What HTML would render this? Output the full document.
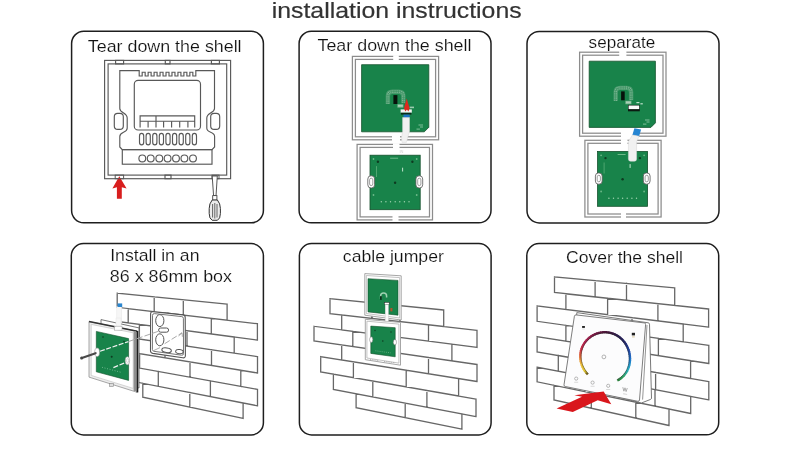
<!DOCTYPE html>
<html><head><meta charset="utf-8"><title>installation instructions</title>
<style>
html,body{margin:0;padding:0;background:#fff;}
body{width:790px;height:449px;overflow:hidden;font-family:"Liberation Sans",sans-serif;}
svg{display:block;will-change:transform;}
</style></head><body>
<svg width="790" height="449" viewBox="0 0 790 449" font-family="'Liberation Sans', sans-serif"><rect x="71.6" y="31.3" width="191.79999999999998" height="191.5" rx="12.2" ry="12.2" fill="#fff" stroke="#1e1e1e" stroke-width="1.5"/>
<rect x="299.1" y="31.3" width="191.89999999999998" height="191.5" rx="12.2" ry="12.2" fill="#fff" stroke="#1e1e1e" stroke-width="1.5"/>
<rect x="527" y="31.4" width="192" height="191.5" rx="12.2" ry="12.2" fill="#fff" stroke="#1e1e1e" stroke-width="1.5"/>
<rect x="71.3" y="243.6" width="192.09999999999997" height="191.29999999999998" rx="12.2" ry="12.2" fill="#fff" stroke="#1e1e1e" stroke-width="1.5"/>
<rect x="299.4" y="243.6" width="191.70000000000005" height="191.29999999999998" rx="12.2" ry="12.2" fill="#fff" stroke="#1e1e1e" stroke-width="1.5"/>
<rect x="526.8" y="243.6" width="191.9000000000001" height="191.20000000000002" rx="12.2" ry="12.2" fill="#fff" stroke="#1e1e1e" stroke-width="1.5"/>
<g style="filter:grayscale(1)">
<text x="271.7" y="17.7" font-size="21.6" fill="#333" stroke="#333" stroke-width="0.18" textLength="250" lengthAdjust="spacingAndGlyphs">installation instructions</text>
<text x="87.8" y="52" font-size="16.4" fill="#101010" stroke="#fff" stroke-width="0.16" textLength="153.8" lengthAdjust="spacingAndGlyphs">Tear down the shell</text>
<text x="317.5" y="51.1" font-size="16.4" fill="#101010" stroke="#fff" stroke-width="0.16" textLength="154" lengthAdjust="spacingAndGlyphs">Tear down the shell</text>
<text x="588.6" y="47.5" font-size="16.4" fill="#101010" stroke="#fff" stroke-width="0.16" textLength="66.6" lengthAdjust="spacingAndGlyphs">separate</text>
<text x="110.2" y="260.7" font-size="15.9" fill="#101010" stroke="#fff" stroke-width="0.16" textLength="89.3" lengthAdjust="spacingAndGlyphs">Install in an</text>
<text x="109.8" y="281.9" font-size="15.9" fill="#101010" stroke="#fff" stroke-width="0.16" textLength="122.2" lengthAdjust="spacingAndGlyphs">86 x 86mm box</text>
<text x="342.8" y="262.1" font-size="16.4" fill="#101010" stroke="#fff" stroke-width="0.16" textLength="101.1" lengthAdjust="spacingAndGlyphs">cable jumper</text>
<text x="566.0" y="263.2" font-size="16.4" fill="#101010" stroke="#fff" stroke-width="0.16" textLength="117" lengthAdjust="spacingAndGlyphs">Cover the shell</text>
</g>
<g fill="none" stroke="#585858" stroke-width="1.15"><rect x="104.6" y="60.4" width="126" height="118.3"/><rect x="108.1" y="63.9" width="118.6" height="111.2"/><rect x="115.6" y="60.4" width="8" height="3.5"/><rect x="165.3" y="60.4" width="4.7" height="3.5"/><rect x="211.4" y="60.4" width="8" height="3.5"/><rect x="165" y="175.1" width="6" height="3.6"/><path d="M119.8,70.6 H139.2V76h2.98V72.2h2.98V76h2.98V72.2h2.98V76h2.98V72.2h2.98V76h2.98V72.2h2.98V76h2.98V72.2h2.98V76h2.98V72.2h2.98V76h2.98V72.2h2.98V76h2.98V72.2h2.98V76h2.98V72.2h2.98V76h2.98V70.6 H214.5 V108.4 C214.5,113 206.8,112.5 206.8,118 V128.2 C206.8,133 214.6,131.5 214.6,136.4 V147 L212,149.6 H122.3 L119.8,147 V136.4 C119.8,131.5 127.2,133 127.2,128.2 V118 C127.2,112.5 119.8,113 119.8,108.4 Z"/><rect x="122.3" y="149.6" width="89.7" height="14.6"/><rect x="134.3" y="80.4" width="66.2" height="49.6" rx="3.8"/><path d="M140.1,127.4 V115.9 H194.7 V127.4 M140.1,121.2 H194.7 M156,115.9 V127.4"/><path d="M148.1,121.2 V127.4"/><path d="M163.6,121.2 V127.4"/><path d="M171.6,121.2 V127.4"/><path d="M179.7,121.2 V127.4"/><path d="M187.9,121.2 V127.4"/><rect x="139.50" y="133.3" width="4.2" height="11.5" rx="2.1" ry="2.6"/><rect x="146.10" y="133.3" width="4.2" height="11.5" rx="2.1" ry="2.6"/><rect x="152.70" y="133.3" width="4.2" height="11.5" rx="2.1" ry="2.6"/><rect x="159.30" y="133.3" width="4.2" height="11.5" rx="2.1" ry="2.6"/><rect x="165.90" y="133.3" width="4.2" height="11.5" rx="2.1" ry="2.6"/><rect x="172.50" y="133.3" width="4.2" height="11.5" rx="2.1" ry="2.6"/><rect x="179.10" y="133.3" width="4.2" height="11.5" rx="2.1" ry="2.6"/><rect x="185.70" y="133.3" width="4.2" height="11.5" rx="2.1" ry="2.6"/><rect x="192.30" y="133.3" width="4.2" height="11.5" rx="2.1" ry="2.6"/><circle cx="142.30" cy="158.4" r="3.4"/><circle cx="150.70" cy="158.4" r="3.4"/><circle cx="159.30" cy="158.4" r="3.4"/><circle cx="167.60" cy="158.4" r="3.4"/><circle cx="176.00" cy="158.4" r="3.4"/><circle cx="184.40" cy="158.4" r="3.4"/><circle cx="193.00" cy="158.4" r="3.4"/><rect x="114.3" y="113.4" width="9" height="16" rx="3.4" fill="#fff"/><rect x="210.7" y="113.4" width="9" height="16" rx="3.4" fill="#fff"/></g>
<path d="M119.3,176.3 L126.6,188.4 L121.8,187.2 V198.8 H116.9 V187.2 L112.4,188.4 Z" fill="#d81e1e"/>
<g fill="none" stroke="#585858" stroke-width="1"><rect x="115.2" y="175.1" width="8.4" height="3.6"/><rect x="212" y="175.1" width="7" height="3.6"/></g>
<path d="M212.2,176 H217.3 L216,196 H213.6 Z" fill="#fff" stroke="#444" stroke-width="0.9"/>
<rect x="212.7" y="195.6" width="4.2" height="4.6" fill="#fff" stroke="#444" stroke-width="0.9"/>
<path d="M212.2,200 Q209.2,203.5 209.2,208.5 V213.5 Q209.2,218.8 212.2,220.3 H217.4 Q220.4,218.8 220.4,213.5 V208.5 Q220.4,203.5 217.4,200 Z" fill="#ececec" stroke="#333" stroke-width="1"/>
<path d="M212.6,204 V217.5 M214.8,203 V218.5 M217,204 V217.5" stroke="#555" stroke-width="0.9" fill="none"/>
<rect x="352.4" y="56.4" width="86.20000000000005" height="83.4" fill="#fff" stroke="none"/><g fill="none" stroke="#8c8c8c" stroke-width="1.25"><rect x="352.4" y="56.4" width="86.20000000000005" height="83.4"/><rect x="355.4" y="59.4" width="80.20000000000005" height="77.4"/></g><rect x="393.2" y="55.199999999999996" width="5.600000000000023" height="5.4" fill="#fff"/><rect x="392" y="135.60000000000002" width="8" height="5.4" fill="#fff"/>
<path d="M361.6,64.7 H428.8 V127.30000000000001 L424.3,131.8 H361.6 Z" fill="#18834a" stroke="#14502c" stroke-width="0.8"/>
<path d="M387.90000000000003,104 V95.7 Q387.90000000000003,91.7 392.40000000000003,91.7 H398.79999999999995 Q403.29999999999995,91.7 403.29999999999995,95.7 V103.2" fill="none" stroke="#46996b" stroke-width="4.4" stroke-linejoin="round"/><path d="M387.90000000000003,104 V95.7 Q387.90000000000003,91.7 392.40000000000003,91.7 H398.79999999999995 Q403.29999999999995,91.7 403.29999999999995,95.7 V103.2" fill="none" stroke="#86bd9c" stroke-width="2.6" stroke-dasharray="1.0,0.8"/><path d="M387.90000000000003,104 V95.7 Q387.90000000000003,91.7 392.40000000000003,91.7 H398.79999999999995 Q403.29999999999995,91.7 403.29999999999995,95.7 V103.2" fill="none" stroke="#3a9160" stroke-width="0.8"/><rect x="393.4" y="95.1" width="4.0" height="8.900000000000006" fill="#07120b"/><rect x="397.4" y="104.2" width="6" height="3.4" fill="#7fb894"/><rect x="398.0" y="105.0" width="4.8" height="1.6" fill="#a9d1b8"/>
<rect x="418.5" y="124.5" width="4.5" height="1" fill="#7fc09a"/><rect x="420" y="126.5" width="3" height="1" fill="#7fc09a"/><rect x="416.5" y="128.6" width="3.4" height="1" fill="#7fc09a"/>
<rect x="409.6" y="106.6" width="4.4" height="1.6" fill="#9ccbae"/>
<rect x="400.6" y="109.4" width="11.2" height="3.3" fill="#f3f3f3"/>
<path d="M406.7,98.6 L409.6,108.2 L408.4,111.6 L406.9,109.6 L405.4,111.6 L404,108.2 Z" fill="#dc2a1e"/>
<rect x="401" y="112.8" width="10.4" height="1.8" fill="#0d2a1a"/>
<rect x="403.5" y="114.6" width="6.2" height="3" fill="#1f72c6"/>
<rect x="357.1" y="144.4" width="75.39999999999998" height="75.5" fill="#fff" stroke="none"/><g fill="none" stroke="#8c8c8c" stroke-width="1.25"><rect x="357.1" y="144.4" width="75.39999999999998" height="75.5"/><rect x="360.1" y="147.4" width="69.39999999999998" height="69.5"/></g><rect x="393" y="143.20000000000002" width="6.5" height="5.4" fill="#fff"/><rect x="392.5" y="215.70000000000002" width="6.0" height="5.4" fill="#fff"/>
<path d="M402.6,117.6 H409.5 V131.6 L407.8,137 L406.4,142.5 H402 L401.6,137 L402.6,131.6 Z" fill="#f1f1f1" stroke="#dadada" stroke-width="0.5"/>
<rect x="370" y="155.2" width="50.19999999999999" height="54.5" fill="#18834a" stroke="#14502c" stroke-width="0.8"/><rect x="367.8" y="175.8" width="6.8" height="12.199999999999989" rx="3.2" fill="#fff" stroke="#555" stroke-width="0.8"/><rect x="369.59999999999997" y="178.20000000000002" width="3.2" height="7.399999999999989" rx="1.6" fill="#fff" stroke="#777" stroke-width="0.7"/><rect x="415.90000000000003" y="175.8" width="6.8" height="12.199999999999989" rx="3.2" fill="#fff" stroke="#555" stroke-width="0.8"/><rect x="417.7" y="178.20000000000002" width="3.2" height="7.399999999999989" rx="1.6" fill="#fff" stroke="#777" stroke-width="0.7"/><circle cx="377.9" cy="161.7" r="1.2" fill="#0e3a20"/><circle cx="412.4" cy="161.7" r="1.2" fill="#0e3a20"/><circle cx="395.1" cy="182.7" r="1.2" fill="#0e3a20"/><circle cx="381.3" cy="201.7" r="0.7" fill="#9fd3b0"/><circle cx="385.9" cy="201.7" r="0.7" fill="#9fd3b0"/><circle cx="390.5" cy="201.7" r="0.7" fill="#9fd3b0"/><circle cx="395.2" cy="201.7" r="0.7" fill="#9fd3b0"/><circle cx="399.8" cy="201.7" r="0.7" fill="#9fd3b0"/><circle cx="404.4" cy="201.7" r="0.7" fill="#9fd3b0"/><circle cx="409.0" cy="201.7" r="0.7" fill="#9fd3b0"/><circle cx="373.5" cy="159.0" r="0.9" fill="#6fb98a"/><circle cx="416.7" cy="159.0" r="0.9" fill="#6fb98a"/><circle cx="373.5" cy="195.0" r="0.9" fill="#6fb98a"/><circle cx="416.7" cy="195.0" r="0.9" fill="#6fb98a"/><rect x="390.1" y="157.7" width="8.0" height="1" fill="#6fb98a"/><rect x="376.0" y="166.1" width="1" height="10.9" fill="#4fa670"/><rect x="402.1" y="167.7" width="1" height="3.8" fill="#bfe3cc"/>
<text x="399.5" y="153.3" font-size="4" fill="#cfcfcf">IN</text>
<rect x="579.6" y="52.2" width="86.39999999999998" height="83.99999999999999" fill="#fff" stroke="none"/><g fill="none" stroke="#8c8c8c" stroke-width="1.25"><rect x="579.6" y="52.2" width="86.39999999999998" height="83.99999999999999"/><rect x="582.6" y="55.2" width="80.39999999999998" height="77.99999999999999"/></g><rect x="619.2" y="51.0" width="7.199999999999932" height="5.4" fill="#fff"/><rect x="621" y="132.0" width="12" height="5.4" fill="#fff"/>
<path d="M589.2,61.2 H655.4 V122.9 L650.9,127.4 H589.2 Z" fill="#18834a" stroke="#14502c" stroke-width="0.8"/>
<path d="M615.7,101 V91.9 Q615.7,87.9 620.2,87.9 H626.6 Q631.1,87.9 631.1,91.9 V100.2" fill="none" stroke="#46996b" stroke-width="4.4" stroke-linejoin="round"/><path d="M615.7,101 V91.9 Q615.7,87.9 620.2,87.9 H626.6 Q631.1,87.9 631.1,91.9 V100.2" fill="none" stroke="#86bd9c" stroke-width="2.6" stroke-dasharray="1.0,0.8"/><path d="M615.7,101 V91.9 Q615.7,87.9 620.2,87.9 H626.6 Q631.1,87.9 631.1,91.9 V100.2" fill="none" stroke="#3a9160" stroke-width="0.8"/><rect x="621.1" y="91.4" width="3.6000000000000227" height="8.899999999999991" fill="#07120b"/><rect x="625.4" y="100.8" width="6" height="3.4" fill="#7fb894"/><rect x="626.0" y="101.6" width="4.8" height="1.6" fill="#a9d1b8"/>
<rect x="628" y="104.9" width="11.8" height="6.4" fill="#0b1a11"/><rect x="628.6" y="105.5" width="10.6" height="3.6" fill="#fafafa"/>
<rect x="636.4" y="102" width="3" height="1.2" fill="#bfe0cc"/><rect x="640.4" y="103.2" width="2.4" height="1.2" fill="#bfe0cc"/>
<rect x="645" y="119.5" width="4.5" height="1" fill="#7fc09a"/><rect x="646.5" y="121.5" width="3" height="1" fill="#7fc09a"/><rect x="643" y="123.6" width="3.4" height="1" fill="#7fc09a"/>
<rect x="584.9" y="140.3" width="76.20000000000005" height="76.69999999999999" fill="#fff" stroke="none"/><g fill="none" stroke="#8c8c8c" stroke-width="1.25"><rect x="584.9" y="140.3" width="76.20000000000005" height="76.69999999999999"/><rect x="587.9" y="143.3" width="70.20000000000005" height="70.69999999999999"/></g><rect x="621" y="139.10000000000002" width="6.5" height="5.4" fill="#fff"/><rect x="621" y="212.8" width="5" height="5.4" fill="#fff"/>
<rect x="597.6" y="151.5" width="50.0" height="54.80000000000001" fill="#18834a" stroke="#14502c" stroke-width="0.8"/><rect x="595.4000000000001" y="172.9" width="6.8" height="11.299999999999983" rx="3.2" fill="#fff" stroke="#555" stroke-width="0.8"/><rect x="597.2" y="175.3" width="3.2" height="6.499999999999983" rx="1.6" fill="#fff" stroke="#777" stroke-width="0.7"/><rect x="643.3000000000001" y="172.9" width="6.8" height="11.299999999999983" rx="3.2" fill="#fff" stroke="#555" stroke-width="0.8"/><rect x="645.1" y="175.3" width="3.2" height="6.499999999999983" rx="1.6" fill="#fff" stroke="#777" stroke-width="0.7"/><circle cx="605.5" cy="158.1" r="1.2" fill="#0e3a20"/><circle cx="639.9" cy="158.1" r="1.2" fill="#0e3a20"/><circle cx="622.6" cy="179.2" r="1.2" fill="#0e3a20"/><circle cx="608.9" cy="198.2" r="0.7" fill="#9fd3b0"/><circle cx="613.5" cy="198.2" r="0.7" fill="#9fd3b0"/><circle cx="618.1" cy="198.2" r="0.7" fill="#9fd3b0"/><circle cx="622.6" cy="198.2" r="0.7" fill="#9fd3b0"/><circle cx="627.2" cy="198.2" r="0.7" fill="#9fd3b0"/><circle cx="631.9" cy="198.2" r="0.7" fill="#9fd3b0"/><circle cx="636.5" cy="198.2" r="0.7" fill="#9fd3b0"/><circle cx="601.1" cy="155.3" r="0.9" fill="#6fb98a"/><circle cx="644.1" cy="155.3" r="0.9" fill="#6fb98a"/><circle cx="601.1" cy="191.5" r="0.9" fill="#6fb98a"/><circle cx="644.1" cy="191.5" r="0.9" fill="#6fb98a"/><rect x="617.6" y="154.0" width="8.0" height="1" fill="#6fb98a"/><rect x="603.6" y="162.5" width="1" height="11.0" fill="#4fa670"/><rect x="629.6" y="164.1" width="1" height="3.8" fill="#bfe3cc"/>
<path d="M634.4,128.2 L641.1,129.4 L639.1,136.2 L632.4,135 Z" fill="#2484d2"/>
<path d="M632.4,135 L639.1,136.2 L636.6,141.6 V159 q0,2.2 -2.2,2.2 h-3.8 q-2.2,0 -2.2,-2.2 V141.6 Z" fill="#f1f1f1" stroke="#d6d6d6" stroke-width="0.5"/>
<path d="M117.2,293.1L227.1,304.2M117.2,307.3L227.1,320.2M117.2,293.1L117.2,307.3M154.2,296.8L154.2,311.6M183.3,299.8L183.3,315.0M227.1,304.2L227.1,320.2M128.2,308.6L257.4,323.7M128.2,323.0L257.4,340.1M128.2,308.6L128.2,323.0M168.0,313.2L168.0,328.2M211.3,318.3L211.3,334.0M257.4,323.7L257.4,340.1M117.2,321.5L234.2,337.0M117.2,335.7L234.2,353.1M117.2,321.5L117.2,335.7M139.4,324.4L139.4,339.0M187.0,330.8L187.0,346.1M234.2,337.0L234.2,353.1M138.4,338.9L257.5,356.6M138.4,353.4L257.5,373.0M138.4,338.9L138.4,353.4M165.0,342.8L165.0,357.8M211.5,349.7L211.5,365.4M257.5,356.6L257.5,373.0M139.6,353.6L240.8,370.2M139.6,368.1L240.8,386.4M139.6,353.6L139.6,368.1M190.0,361.9L190.0,377.2M240.8,370.2L240.8,386.4M137.8,367.8L257.5,389.4M137.8,382.3L257.5,405.8M137.8,367.8L137.8,382.3M158.3,371.5L158.3,386.4M210.4,380.9L210.4,396.6M257.5,389.4L257.5,405.8M142.8,383.3L243.1,403.0M142.8,397.2L243.1,418.4M142.8,383.3L142.8,397.2M189.8,392.5L189.8,407.1M243.1,403.0L243.1,418.4" fill="none" stroke="#676767" stroke-width="1.3" stroke-linecap="square"/>
<rect x="116.8" y="306.5" width="4.8" height="26" fill="#f6f6f6" stroke="#e6e6e6" stroke-width="0.5"/>
<rect x="117.6" y="303.4" width="4.6" height="3.6" fill="#2b86cf"/>
<path d="M153.1,311.6 L183,314.9 q2.2,0.3 2.2,2.5 L185.4,355.6 q0,2.6 -2.6,2.2 L152.8,353.4 q-2.3,-0.4 -2.3,-2.6 L150.6,314 q0,-2.6 2.5,-2.4 Z" fill="#fff" stroke="#555" stroke-width="1.1"/>
<path d="M154.4,313.6 L181.8,316.6 q1.6,0.2 1.6,1.8 L183.5,353.6 q0,1.9 -1.9,1.6 L154,351.3 q-1.6,-0.3 -1.6,-1.9 L152.5,315.4 q0,-1.9 1.9,-1.8 Z" fill="none" stroke="#666" stroke-width="0.9"/>
<g fill="#fff" stroke="#555" stroke-width="1"><ellipse cx="159.8" cy="320.6" rx="4.1" ry="6"/><ellipse cx="159.8" cy="339.8" rx="4.1" ry="6"/><rect x="158.6" y="328" width="10" height="4.2" rx="2.1"/><ellipse cx="166.6" cy="350.2" rx="4.8" ry="2.3" transform="rotate(8 166.6 350.2)"/><ellipse cx="179.4" cy="351.6" rx="3.8" ry="2.1" transform="rotate(8 179.4 351.6)"/></g>
<path d="M153.6,350.6 L160,347.6" stroke="#888" stroke-width="0.7"/>
<path d="M101,319.6 L139,327.9 L139,388 L101,376 Z" fill="#fff" stroke="#666" stroke-width="0.9"/>
<path d="M89,321.6 L137.2,331.2 L137.2,392.3 L89,377.1 Z" fill="#ededed" stroke="#9c9c9c" stroke-width="0.9"/>
<path d="M91.2,324.4 L133.2,332.8 L133.2,388.4 L91.2,375.4 Z" fill="#fff" stroke="#c4c4c4" stroke-width="0.7"/>
<path d="M89,321.6 L137.2,331.2" stroke="#333" stroke-width="1.5" fill="none"/>
<path d="M137.4,331 L137.4,392.4" stroke="#1d1d1d" stroke-width="1.8" fill="none"/>
<path d="M134.8,331.2 L134.8,391" stroke="#8f8f8f" stroke-width="2.4" fill="none"/>
<path d="M96.3,331.4 L128.6,338.6 L128.6,380.4 L96.3,371.8 Z" fill="#18834a" stroke="#14502c" stroke-width="0.6"/>
<rect x="116" y="318" width="5" height="10" fill="#f6f6f6" stroke="#e6e6e6" stroke-width="0.5"/>
<rect x="114.6" y="326.2" width="7.4" height="4" fill="#fff" stroke="#a5a5a5" stroke-width="0.6"/>
<ellipse cx="97.1" cy="352.3" rx="2.4" ry="4.3" fill="#fff" stroke="#999" stroke-width="0.6"/>
<ellipse cx="127.4" cy="360.7" rx="2.2" ry="4" fill="#fff" stroke="#999" stroke-width="0.6"/>
<ellipse cx="127.6" cy="360.7" rx="1" ry="2.1" fill="#fff" stroke="#aaa" stroke-width="0.5"/>
<path d="M81.8,358 L95.6,353.2" stroke="#4a4a4a" stroke-width="2.2" stroke-linecap="round" fill="none"/><circle cx="81.6" cy="358" r="1.5" fill="#444"/>
<path d="M100,351.3 L128.4,341.6 M113.4,367.6 L124.9,362.8" stroke="#f2f2f2" stroke-width="1.2" stroke-dasharray="5,1.6" fill="none"/>
<path d="M129,341.4 L158,331.4 M164.7,343.7 L182,332.8" stroke="#a9a9a9" stroke-width="1" stroke-dasharray="6,2.2" fill="none"/>
<path d="M178.6,336 l3.4,-3.2 l0.4,4" stroke="#999" stroke-width="0.8" fill="none"/>
<circle cx="111.7" cy="356.8" r="1" fill="#0e3a20"/><circle cx="103" cy="337" r="0.8" fill="#0e3a20"/><circle cx="124" cy="341.5" r="0.8" fill="#0e3a20"/>
<path d="M102,367.3 L121,372.3" stroke="#7fc09a" stroke-width="0.8" stroke-dasharray="1,1.6" fill="none"/>
<rect x="109.6" y="383.4" width="4" height="3" fill="#ddd" stroke="#888" stroke-width="0.6"/>
<path d="M330.0,298.7L443.7,310.0M330.0,313.6L443.7,326.5M330.0,298.7L330.0,313.6M372.0,302.9L372.0,318.4M400.0,305.7L400.0,321.6M443.7,310.0L443.7,326.5M341.7,314.9L477.0,330.4M341.7,329.9L477.0,347.4M341.7,314.9L341.7,329.9M385.0,319.8L385.0,335.5M428.5,324.8L428.5,341.1M477.0,330.4L477.0,347.4M314.0,326.3L451.9,344.2M314.0,340.9L451.9,360.8M314.0,326.3L314.0,340.9M352.8,331.3L352.8,346.5M398.0,337.2L398.0,353.1M451.9,344.2L451.9,360.8M341.7,344.9L477.0,364.5M341.7,360.0L477.0,381.5M341.7,344.9L341.7,360.0M428.5,357.5L428.5,373.8M477.0,364.5L477.0,381.5M320.7,356.6L458.6,378.6M320.7,371.9L458.6,396.0M320.7,356.6L320.7,371.9M353.4,361.8L353.4,377.6M406.2,370.2L406.2,386.9M458.6,378.6L458.6,396.0M333.4,374.1L476.0,399.1M333.4,389.5L476.0,416.6M333.4,374.1L333.4,389.5M372.8,381.0L372.8,397.0M426.9,390.5L426.9,407.3M476.0,399.1L476.0,416.6M356.1,393.8L461.9,413.9M356.1,407.7L461.9,429.2M356.1,393.8L356.1,407.7M405.2,403.1L405.2,417.7M461.9,413.9L461.9,429.2" fill="none" stroke="#676767" stroke-width="1.3" stroke-linecap="square"/>
<path d="M364.8,273.6 L401.2,275.8 L401.2,320 L364.8,315.2 Z" fill="#fff" stroke="#9c9c9c" stroke-width="0.9"/>
<path d="M366.3,275.5 L399.7,277.6 L399.7,318 L366.3,313.5 Z" fill="#fff" stroke="#b4b4b4" stroke-width="0.8"/>
<path d="M368,278.7 L398,280.4 L398,315.2 L368,311.9 Z" fill="#18834a" stroke="#14502c" stroke-width="0.6"/>
<path d="M365.3,319.3 L400.5,322.4 L400.5,365.2 L365.3,359.7 Z" fill="#fff" stroke="#9c9c9c" stroke-width="0.9"/>
<path d="M366.9,321.2 L398.9,324.1 L398.9,363.1 L366.9,358 Z" fill="#fff" stroke="#b4b4b4" stroke-width="0.8"/>
<path d="M370.8,326.1 L395.2,327.7 L395.2,356.8 L370.8,353.4 Z" fill="#18834a" stroke="#14502c" stroke-width="0.6"/>
<path d="M380.6,299 v-3 q0,-3 3,-3 q3,0 3,3 v1.4" fill="none" stroke="#9fd0b1" stroke-width="1.5"/>
<rect x="380" y="296.2" width="1.8" height="3.6" fill="#0c2f1a"/>
<rect x="384.4" y="302.4" width="4.8" height="2" fill="#fff" stroke="#222" stroke-width="0.5"/>
<rect x="385.2" y="304.6" width="3.2" height="16.6" fill="#fafafa" stroke="#ccc" stroke-width="0.4"/>
<rect x="390.4" y="308" width="2" height="3.4" fill="#b5502c"/>
<ellipse cx="371.2" cy="339.6" rx="1.6" ry="2.8" fill="#fff" stroke="#777" stroke-width="0.5"/><ellipse cx="394.9" cy="342.2" rx="1.6" ry="2.8" fill="#fff" stroke="#777" stroke-width="0.5"/>
<circle cx="382.8" cy="341" r="0.8" fill="#0e3a20"/><circle cx="375" cy="330.5" r="0.7" fill="#0e3a20"/><circle cx="391" cy="332" r="0.7" fill="#0e3a20"/>
<path d="M375.5,350.8 L390.5,352.8" stroke="#8cc7a2" stroke-width="0.7" stroke-dasharray="0.8,1.3" fill="none"/>
<path d="M370,359.4 L379,360.6 M384,361.4 L395,362.8" stroke="#999" stroke-width="0.7" stroke-dasharray="1,0.8" fill="none"/>
<path d="M554.5,277.0L674.7,287.8M554.5,292.5L674.7,305.4M554.5,277.0L554.5,292.5M595.1,280.6L595.1,296.9M626.5,283.5L626.5,300.2M674.7,287.8L674.7,305.4M565.9,293.8L708.6,309.0M565.9,309.5L708.6,327.2M565.9,293.8L565.9,309.5M607.6,298.2L607.6,314.7M657.9,303.6L657.9,320.9M708.6,309.0L708.6,327.2M537.1,306.0L683.2,324.0M537.1,321.3L683.2,341.8M537.1,306.0L537.1,321.3M583.0,311.7L583.0,327.7M632.0,317.7L632.0,334.6M683.2,324.0L683.2,341.8M565.9,325.3L708.8,345.4M565.9,341.1L708.8,363.5M565.9,325.3L565.9,341.1M610.0,331.5L610.0,348.0M658.4,338.3L658.4,355.6M708.8,345.4L708.8,363.5M537.1,336.6L690.6,360.7M537.1,351.9L690.6,378.5M537.1,336.6L537.1,351.9M585.0,344.1L585.0,360.2M640.0,352.7L640.0,369.7M690.6,360.7L690.6,378.5M558.3,355.5L708.8,381.7M558.3,371.2L708.8,399.8M558.3,355.5L558.3,371.2M605.0,363.7L605.0,380.1M655.6,372.4L655.6,389.7M708.8,381.7L708.8,399.8M537.1,367.2L690.7,396.4M537.1,381.8L690.7,413.5M537.1,367.2L537.1,381.8M585.0,376.3L585.0,391.7M655.0,389.6L655.0,406.2M690.7,396.4L690.7,413.5M554.0,385.3L669.0,409.0M554.0,400.0L669.0,425.5M554.0,385.3L554.0,400.0M591.3,393.0L591.3,408.2M635.8,402.2L635.8,418.1M669.0,409.0L669.0,425.5" fill="none" stroke="#676767" stroke-width="1.3" stroke-linecap="square"/>
<path d="M576.8,312.6 L648.2,322.8 q1.2,0.2 1.3,1.4 L651.5,398 q0,1 -0.9,1.4 L641.4,403 L575,386 Z" fill="#fff" stroke="#6a6a6a" stroke-width="0.9"/>
<path d="M647,325 L642.6,399.6" stroke="#7a7a7a" stroke-width="0.8" fill="none"/>
<path d="M576.1,314.9 L644.3000000000001,322.90000000000003 q1.4,0.2 1.3,1.6 L639.5,400.0 q-0.2,1.6 -1.7,1.3 L565.1999999999999,386.5 q-1.4,-0.3 -1.2,-1.7 L574.4,316.2 q0.2,-1.4 1.7,-1.3 Z" fill="#fcfcfd" stroke="#6e6e6e" stroke-width="0.9"/>
<g fill="none" stroke-width="2.3"><path d="M587.80,374.46 L587.12,373.75 L586.47,373.01 L585.85,372.25" stroke="rgb(120, 101, 26)"/><path d="M586.34,372.85 L585.73,372.09 L585.14,371.31 L584.58,370.51" stroke="rgb(194, 170, 44)"/><path d="M585.02,371.15 L584.47,370.35 L583.95,369.53 L583.46,368.69" stroke="rgb(227, 198, 52)"/><path d="M583.85,369.35 L583.37,368.52 L582.92,367.66 L582.50,366.79" stroke="rgb(230, 195, 54)"/><path d="M582.83,367.48 L582.42,366.61 L582.05,365.73 L581.71,364.84" stroke="rgb(232, 193, 55)"/><path d="M581.97,365.55 L581.64,364.66 L581.34,363.75 L581.08,362.84" stroke="rgb(235, 190, 57)"/><path d="M581.28,363.57 L581.03,362.65 L580.81,361.74 L580.62,360.81" stroke="rgb(233, 174, 58)"/><path d="M580.77,361.55 L580.59,360.62 L580.45,359.69 L580.34,358.76" stroke="rgb(230, 152, 58)"/><path d="M580.42,359.50 L580.33,358.57 L580.26,357.64 L580.24,356.70" stroke="rgb(227, 130, 59)"/><path d="M580.26,357.44 L580.24,356.51 L580.26,355.58 L580.31,354.65" stroke="rgb(223, 108, 60)"/><path d="M580.27,355.39 L580.33,354.46 L580.43,353.54 L580.56,352.62" stroke="rgb(216, 90, 63)"/><path d="M580.45,353.35 L580.59,352.43 L580.77,351.53 L580.98,350.62" stroke="rgb(210, 73, 66)"/><path d="M580.81,351.34 L581.03,350.44 L581.28,349.55 L581.57,348.67" stroke="rgb(203, 55, 70)"/><path d="M581.34,349.37 L581.63,348.49 L581.96,347.63 L582.32,346.78" stroke="rgb(196, 44, 72)"/><path d="M582.03,347.45 L582.40,346.60 L582.80,345.77 L583.23,344.95" stroke="rgb(190, 41, 73)"/><path d="M582.89,345.60 L583.33,344.79 L583.80,343.99 L584.30,343.21" stroke="rgb(183, 38, 75)"/><path d="M583.90,343.83 L584.40,343.05 L584.94,342.29 L585.50,341.56" stroke="rgb(176, 35, 76)"/><path d="M585.05,342.14 L585.62,341.41 L586.22,340.70 L586.84,340.01" stroke="rgb(170, 32, 77)"/><path d="M586.34,340.55 L586.97,339.87 L587.62,339.21 L588.30,338.57" stroke="rgb(161, 31, 76)"/><path d="M587.76,339.08 L588.44,338.45 L589.15,337.84 L589.88,337.26" stroke="rgb(152, 30, 74)"/><path d="M589.30,337.72 L590.03,337.15 L590.78,336.60 L591.56,336.08" stroke="rgb(142, 29, 72)"/><path d="M590.94,336.49 L591.72,335.98 L592.51,335.50 L593.32,335.05" stroke="rgb(133, 28, 70)"/><path d="M592.68,335.40 L593.49,334.96 L594.32,334.54 L595.17,334.16" stroke="rgb(124, 27, 68)"/><path d="M594.50,334.46 L595.35,334.08 L596.21,333.73 L597.08,333.42" stroke="rgb(114, 26, 66)"/><path d="M596.39,333.67 L597.27,333.36 L598.15,333.09 L599.05,332.85" stroke="rgb(107, 25, 65)"/><path d="M598.34,333.04 L599.24,332.80 L600.14,332.60 L601.06,332.44" stroke="rgb(100, 25, 64)"/><path d="M600.33,332.57 L601.25,332.41 L602.17,332.29 L603.09,332.20" stroke="rgb(93, 25, 63)"/><path d="M602.36,332.27 L603.28,332.19 L604.21,332.15 L605.13,332.14" stroke="rgb(86, 24, 62)"/><path d="M604.40,332.14 L605.33,332.14 L606.25,332.18 L607.18,332.25" stroke="rgb(79, 24, 61)"/><path d="M606.44,332.19 L607.37,332.27 L608.29,332.38 L609.21,332.53" stroke="rgb(72, 24, 60)"/><path d="M608.48,332.41 L609.40,332.57 L610.31,332.76 L611.21,332.99" stroke="rgb(66, 24, 62)"/><path d="M610.49,332.81 L611.40,333.05 L612.29,333.32 L613.17,333.63" stroke="rgb(60, 26, 65)"/><path d="M612.47,333.38 L613.35,333.70 L614.22,334.05 L615.08,334.43" stroke="rgb(55, 27, 68)"/><path d="M614.40,334.12 L615.25,334.51 L616.10,334.94 L616.92,335.40" stroke="rgb(50, 28, 72)"/><path d="M616.27,335.03 L617.09,335.50 L617.90,336.00 L618.68,336.53" stroke="rgb(44, 29, 75)"/><path d="M618.06,336.10 L618.84,336.64 L619.61,337.21 L620.36,337.81" stroke="rgb(42, 31, 81)"/><path d="M619.77,337.33 L620.51,337.94 L621.23,338.57 L621.93,339.24" stroke="rgb(40, 33, 86)"/><path d="M621.37,338.71 L622.07,339.38 L622.74,340.07 L623.38,340.80" stroke="rgb(39, 36, 92)"/><path d="M622.87,340.22 L623.51,340.95 L624.13,341.70 L624.72,342.48" stroke="rgb(37, 38, 98)"/><path d="M624.25,341.86 L624.84,342.65 L625.39,343.45 L625.92,344.28" stroke="rgb(35, 40, 105)"/><path d="M625.51,343.62 L626.03,344.45 L626.52,345.31 L626.99,346.18" stroke="rgb(35, 48, 119)"/><path d="M626.62,345.49 L627.08,346.36 L627.50,347.25 L627.90,348.16" stroke="rgb(35, 55, 134)"/><path d="M627.59,347.44 L627.98,348.35 L628.34,349.28 L628.66,350.22" stroke="rgb(34, 63, 149)"/><path d="M628.41,349.47 L628.72,350.41 L629.01,351.37 L629.26,352.33" stroke="rgb(34, 71, 164)"/><path d="M629.06,351.57 L629.31,352.53 L629.52,353.51 L629.69,354.49" stroke="rgb(33, 82, 173)"/><path d="M629.56,353.71 L629.73,354.69 L629.86,355.67 L629.96,356.66" stroke="rgb(32, 93, 183)"/><path d="M629.88,355.88 L629.97,356.87 L630.03,357.86 L630.05,358.85" stroke="rgb(31, 104, 192)"/><path d="M630.04,358.06 L630.05,359.05 L630.03,360.04 L629.97,361.02" stroke="rgb(30, 116, 201)"/><path d="M630.02,360.24 L629.95,361.23 L629.85,362.20 L629.72,363.17" stroke="rgb(31, 129, 203)"/><path d="M629.83,362.40 L629.68,363.37 L629.50,364.33 L629.29,365.28" stroke="rgb(34, 142, 202)"/><path d="M629.46,364.53 L629.24,365.48 L628.98,366.41 L628.69,367.33" stroke="rgb(36, 155, 201)"/><path d="M628.93,366.60 L628.63,367.52 L628.30,368.42 L627.93,369.31" stroke="rgb(38, 169, 200)"/><path d="M628.22,368.61 L627.85,369.49 L627.44,370.35 L627.00,371.20" stroke="rgb(41, 174, 189)"/><path d="M627.35,370.53 L626.91,371.37 L626.43,372.19 L625.92,372.98" stroke="rgb(43, 171, 166)"/><path d="M626.33,372.35 L625.81,373.14 L625.26,373.91 L624.69,374.65" stroke="rgb(45, 167, 143)"/><path d="M625.15,374.06 L624.56,374.80 L623.95,375.51 L623.31,376.19" stroke="rgb(48, 164, 120)"/><path d="M623.82,375.65 L623.18,376.32 L622.50,376.97 L621.80,377.59" stroke="rgb(49, 159, 100)"/><path d="M622.36,377.10 L621.66,377.71 L620.93,378.29 L620.18,378.83" stroke="rgb(47, 148, 86)"/><path d="M620.78,378.40 L620.02,378.94 L619.24,379.45 L618.44,379.92" stroke="rgb(46, 137, 72)"/><path d="M619.08,379.55 L618.49,379.89 L617.89,380.22 L617.28,380.53" stroke="rgb(44, 129, 60)"/></g>
<path d="M588.43,373.86 L587.36,372.70 L586.37,371.50 L585.45,370.24 L584.62,368.93 L583.87,367.59 L583.20,366.20 L582.63,364.79 L582.14,363.35 L581.75,361.89 L581.45,360.42 L581.25,358.93 L581.15,357.44 L581.14,355.96 L581.22,354.47 L581.40,353.00 L581.68,351.55 L582.04,350.12 L582.50,348.72 L583.05,347.35 L583.68,346.01 L584.39,344.72 L585.19,343.48 L586.06,342.28 L587.01,341.14 L588.02,340.07 L589.10,339.05 L590.24,338.10 L591.44,337.23 L592.69,336.43 L593.98,335.71 L595.32,335.07 L596.69,334.51 L598.10,334.04 L599.53,333.66 L600.98,333.36 L602.45,333.17 L603.93,333.06 L605.41,333.05 L606.89,333.13 L608.36,333.31 L609.82,333.58 L611.27,333.95 L612.68,334.41 L614.08,334.97 L615.43,335.61 L616.75,336.34 L618.03,337.16 L619.25,338.07 L620.43,339.05 L621.54,340.11 L622.60,341.24 L623.58,342.44 L624.50,343.70 L625.34,345.02 L626.11,346.39 L626.80,347.81 L627.40,349.27 L627.92,350.77 L628.35,352.30 L628.69,353.85 L628.94,355.41 L629.10,356.99 L629.17,358.57 L629.14,360.14 L629.01,361.71 L628.80,363.25 L628.48,364.77 L628.08,366.27 L627.58,367.72 L627.00,369.13 L626.33,370.49 L625.57,371.80 L624.73,373.05 L623.81,374.23 L622.81,375.34 L621.74,376.37 L620.61,377.33 L619.41,378.20 L618.15,378.99 L616.84,379.68" fill="none" stroke="#1a1a1a" stroke-width="0.8" opacity="0.55"/>
<circle cx="603.9" cy="356.9" r="1.9" fill="none" stroke="#a0a0a0" stroke-width="0.8"/>
<rect x="582.1" y="326" width="2.8" height="1.9" fill="#222"/><rect x="582.2" y="328.6" width="2.6" height="0.8" fill="#ddd"/>
<rect x="631.8" y="332.8" width="3.2" height="2.6" fill="#222"/><rect x="632" y="336.4" width="2.8" height="1" fill="#d9c9a0"/>
<circle cx="576.2" cy="378.6" r="1.6" fill="none" stroke="#9b9b9b" stroke-width="0.7"/><rect x="574.2" y="381.8" width="4" height="0.8" fill="#cfcfcf"/>
<circle cx="592.6" cy="382.6" r="1.6" fill="none" stroke="#9b9b9b" stroke-width="0.7"/><rect x="590.6" y="385.8" width="4" height="0.8" fill="#cfcfcf"/>
<circle cx="608.2" cy="385.8" r="1.6" fill="none" stroke="#9b9b9b" stroke-width="0.7"/><rect x="606.2" y="389.0" width="4" height="0.8" fill="#cfcfcf"/>
<path d="M622.8,387.2 l1.1,4 l1.1,-3.4 l1.1,3.8 l1.2,-3.6" fill="none" stroke="#8f8f8f" stroke-width="0.7"/>
<rect x="623.2" y="393.6" width="4" height="0.8" fill="#cfcfcf" transform="rotate(8 625 394)"/>
<path d="M556.6,408.4 L572.8,411.9 L597.7,400.3 L611.3,404.3 L603.7,391.6 L574.4,395.2 L582,396.7 Z" fill="#d9161c"/></svg>
</body></html>
